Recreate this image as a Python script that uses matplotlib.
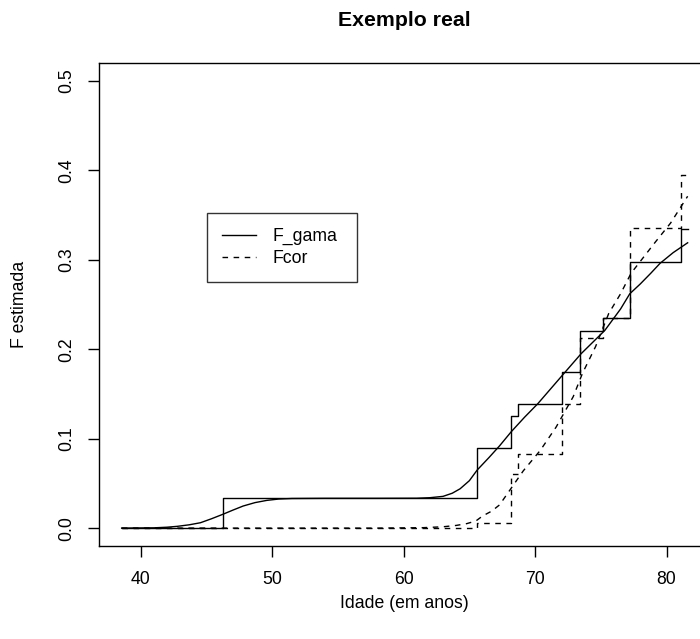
import numpy as np
import matplotlib.pyplot as plt

plt.rcParams['font.family'] = ['Liberation Sans', 'DejaVu Sans']

# tempos de falha observados (anos) e estimativas em degrau
tempos = [38.56, 46.3, 65.6, 68.16, 68.67, 72.05, 73.42, 75.2, 77.2, 81.1]
t_fim = 81.6
km_gama = [0.0, 0.0333, 0.09, 0.125, 0.139, 0.174, 0.22, 0.235, 0.298, 0.334]
km_cor = [0.0, 0.0, 0.0053, 0.060, 0.083, 0.139, 0.212, 0.235, 0.336, 0.395]

# curvas ajustadas
idade_gama = [38.56, 41.0, 42.0, 42.8, 43.7, 44.55, 45.4, 46.3, 47.0, 47.8, 48.7,
              49.6, 50.5, 51.5, 54.0, 58.0, 61.0, 62.0, 63.0, 63.7, 64.3, 65.0,
              65.6, 66.5, 67.3, 68.2, 69.2, 70.2, 71.2, 72.2, 73.5, 74.4, 75.3,
              76.5, 77.2, 78.0, 78.8, 79.5, 80.5, 81.6]
F_gama = [0.0, 0.0003, 0.001, 0.002, 0.0037, 0.006, 0.0105, 0.0157, 0.020, 0.0247,
          0.0285, 0.031, 0.0325, 0.0331, 0.0333, 0.0333, 0.0334, 0.0340, 0.0355,
          0.0390, 0.044, 0.053, 0.065, 0.079, 0.092, 0.108, 0.124, 0.139, 0.156,
          0.173, 0.195, 0.208, 0.221, 0.245, 0.262, 0.273, 0.285, 0.296, 0.308, 0.319]
idade_cor = [38.56, 50.0, 58.0, 61.5, 63.0, 64.0, 64.8, 65.5, 66.0, 66.7, 67.3,
             68.2, 69.1, 70.4, 71.6, 72.9, 73.6, 74.6, 75.6, 76.5, 77.3, 78.2,
             79.1, 80.3, 81.6]
F_cor = [0.0, 0.0, 0.0, 0.0005, 0.0015, 0.003, 0.005, 0.008, 0.0135, 0.019, 0.026,
         0.045, 0.064, 0.087, 0.113, 0.147, 0.173, 0.203, 0.240, 0.262, 0.285, 0.302,
         0.319, 0.341, 0.371]

W, H = 700, 639
fig = plt.figure(figsize=(W / 100, H / 100), dpi=100)
# o grafico original foi cortado na direita
ax = fig.add_axes([98.5 / W, 1 - 546 / H, (710 - 98.5) / W, (546 - 63) / H])

lw = 1.0
tracejado = (0, (4, 4))
fs = 12.7
ax.step(tempos + [t_fim], km_gama + [km_gama[-1]], where='post', color='black', lw=lw)
ax.step(tempos + [t_fim], km_cor + [km_cor[-1]], where='post', color='black', lw=lw,
        linestyle=tracejado)
ax.plot(idade_gama, F_gama, color='black', lw=lw, label='F_gama')
ax.plot(idade_cor, F_cor, color='black', lw=lw, linestyle=tracejado, label='Fcor')

ax.set_xlim(36.8, 83.3)
ax.set_ylim(-0.02, 0.52)
ax.set_xticks([40, 50, 60, 70, 80])
ax.set_yticks([0.0, 0.1, 0.2, 0.3, 0.4, 0.5])
ax.set_yticklabels(['0.0', '0.1', '0.2', '0.3', '0.4', '0.5'], rotation=90, va='center')
ax.tick_params(direction='out', length=8.2, width=1.0, labelsize=fs)
ax.tick_params(axis='x', pad=10)
ax.tick_params(axis='y', pad=8.5)
for s in ax.spines.values():
    s.set_linewidth(1.0)

ax.set_xlabel('Idade (em anos)', fontsize=fs, va='center')
ax.xaxis.set_label_coords(0.5, (546 - 604) / 483)
ax.set_ylabel('F estimada', fontsize=fs, va='center')
ax.yaxis.set_label_coords((20 - 98.5) / 611.5, 0.5)
fig.text(404 / W, 1 - 20 / H, 'Exemplo real', ha='center', va='center',
         fontsize=15.3, fontweight='bold')

leg = ax.legend(loc='upper left',
                bbox_to_anchor=(206.7 / W, 1 - 281 / H, 150 / W, 67.7 / H),
                bbox_transform=fig.transFigure, mode='expand', borderaxespad=0,
                fontsize=fs, frameon=True, fancybox=False, edgecolor='black',
                handlelength=1.97, handletextpad=0.9, labelspacing=0.25,
                borderpad=0.85)
leg.get_frame().set_linewidth(1.0)

fig.savefig('out.png', dpi=100)
